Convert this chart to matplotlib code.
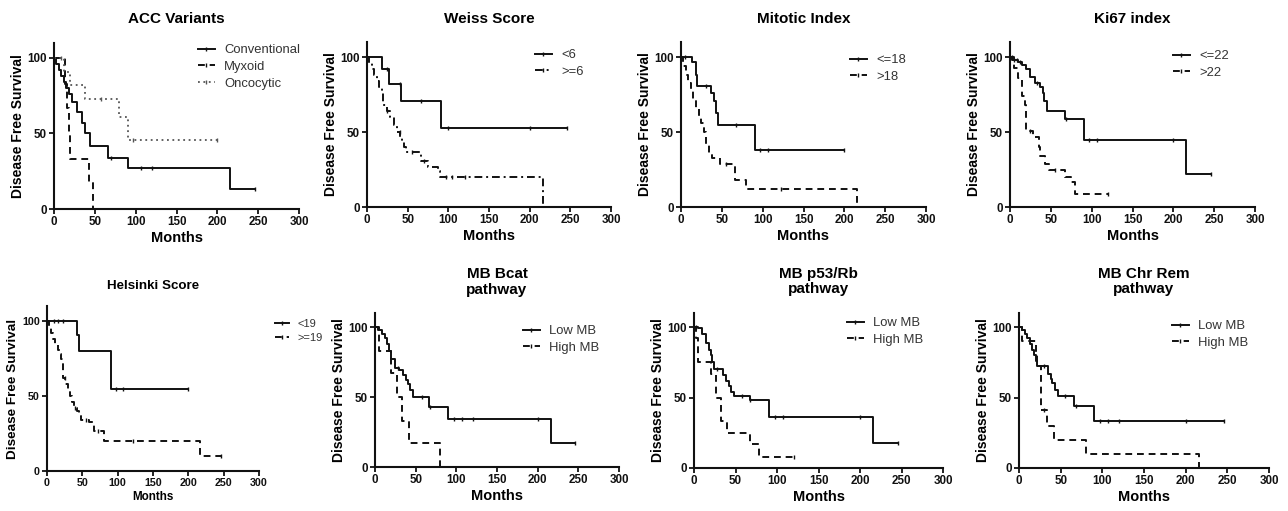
import matplotlib
matplotlib.use("Agg")
import matplotlib.pyplot as plt
from matplotlib.lines import Line2D

plt.rcParams["font.family"] = ["Liberation Sans", "DejaVu Sans"]

W, H = 1288, 511
MONTH_TICKS = [0, 50, 100, 150, 200, 250, 300]
DFS_TICKS = [0, 50, 100]

# ACC Variants
conv_t = [3, 6, 9, 12, 15, 18, 22, 28, 34, 38, 44, 66, 90, 216]
conv_s = [96, 92, 88, 84, 80, 76, 71, 64, 57, 50, 42, 34, 27, 13]
conv_end, conv_cens = 246, [70, 106, 120, 246]
myx_t = [13, 16, 18, 20, 43, 48]
myx_s = [83, 67, 50, 33, 17, 0]
myx_end, myx_cens = 48, []
onc_t = [12, 20, 38, 80, 90]
onc_s = [91, 82, 73, 61, 46]
onc_end, onc_cens = 200, [8, 57, 97, 200]

# Weiss Score
wlo_t = [18, 27, 42, 91]
wlo_s = [92, 82, 71, 53]
wlo_end, wlo_cens = 246, [24, 41, 66, 99, 200, 246]
whi_t = [3, 6, 9, 12, 15, 18, 20, 24, 28, 33, 37, 41, 43, 46, 48, 66, 75, 87, 90, 216]
whi_s = [96, 92, 88, 84, 80, 76, 68, 64, 60, 55, 50, 47, 44, 40, 37, 31, 27, 24, 20, 0]
whi_end, whi_cens = 216, [25, 40, 55, 70, 97, 104, 120]

# Mitotic Index
mlo_t = [14, 18, 20, 37, 40, 43, 45, 90]
mlo_s = [97, 88, 81, 76, 71, 63, 55, 38]
mlo_end, mlo_cens = 200, [5, 30, 67, 97, 107, 200]
mhi_t = [3, 6, 9, 12, 15, 18, 22, 25, 28, 31, 34, 38, 48, 66, 80, 216]
mhi_s = [94, 88, 83, 78, 72, 66, 60, 56, 50, 42, 35, 33, 29, 18, 12, 0]
mhi_end, mhi_cens = 216, [55, 122]

# Ki67 index
klo_t = [3, 10, 15, 20, 25, 30, 37, 40, 42, 45, 67, 90, 216]
klo_s = [98, 97, 95, 92, 87, 83, 80, 76, 71, 64, 59, 45, 22]
klo_end, klo_cens = 246, [2, 5, 8, 12, 33, 68, 97, 107, 200, 246]
khi_t = [5, 10, 15, 18, 20, 28, 35, 37, 43, 48, 67, 75, 80]
khi_s = [93, 86, 74, 68, 51, 47, 40, 34, 29, 25, 20, 17, 9]
khi_end, khi_cens = 120, [24, 55, 120]

# Helsinki Score
hlo_t = [42, 45, 90, 91]
hlo_s = [91, 80, 70, 55]
hlo_end, hlo_cens = 200, [10, 16, 22, 98, 107, 200]
hhi_t = [3, 6, 9, 12, 15, 18, 20, 22, 26, 30, 33, 35, 38, 42, 45, 48, 60, 66, 80, 216]
hhi_s = [96, 92, 88, 85, 81, 78, 75, 62, 58, 55, 50, 46, 42, 40, 37, 34, 33, 27, 20, 10]
hhi_end, hhi_cens = 246, [25, 40, 55, 72, 122, 246]

# MB Bcat pathway
blo_t = [4, 8, 12, 15, 17, 20, 24, 30, 35, 38, 40, 43, 47, 66, 90, 216]
blo_s = [98, 95, 92, 88, 83, 77, 71, 69, 66, 62, 59, 55, 50, 43, 34, 17]
blo_end, blo_cens = 246, [28, 58, 68, 97, 107, 120, 200, 246]
bhi_t = [5, 20, 27, 33, 42, 80]
bhi_s = [83, 67, 50, 33, 17, 0]
bhi_end, bhi_cens = 80, []

# MB p53/Rb pathway
plo_t = [5, 10, 15, 18, 20, 22, 24, 35, 38, 42, 45, 48, 67, 90, 216]
plo_s = [99, 95, 89, 84, 80, 75, 70, 66, 62, 58, 54, 51, 48, 36, 18]
plo_end, plo_cens = 246, [2, 28, 58, 68, 97, 107, 200, 246]
phi_t = [3, 5, 20, 27, 33, 40, 67, 78]
phi_s = [92, 75, 67, 50, 33, 25, 17, 8]
phi_end, phi_cens = 120, [120]

# MB Chr Rem pathway
clo_t = [3, 7, 10, 13, 16, 18, 20, 22, 35, 38, 40, 43, 47, 66, 90]
clo_s = [98, 95, 92, 88, 84, 80, 76, 72, 67, 63, 60, 55, 51, 44, 33]
clo_end, clo_cens = 246, [30, 55, 68, 97, 107, 120, 200, 246]
chi_t = [3, 20, 22, 26, 33, 42, 80, 216]
chi_s = [90, 80, 72, 41, 30, 20, 10, 0]
chi_end, chi_cens = 216, [30]

INK = "#111111"
SOLID = dict(color=INK, ls="-", lw=1.4)
DASH = dict(color=INK, ls=(0, (3.5, 2.5)), lw=1.4)
DASHDOT = dict(color=INK, ls=(0, (4, 2, 1, 2)), lw=1.4)
DOT = dict(color="#555555", ls=(0, (1, 2)), lw=1.3)

# font scale per element: (title, ticks, xlabel, ylabel, legend)
FULL = (1.0, 1.0, 1.0, 1.0, 1.0)
SMALL = (0.88, 0.92, 0.8, 0.97, 0.85)


def km_xy(t, s, end):
    return [0] + list(t) + [end], [100] + list(s) + [s[-1]]


def surv_at(t, s, c):
    v = 100
    for ti, si in zip(t, s):
        if ti <= c:
            v = si
    return v


# (title, [(label, t, s, end, cens, style)], (left, right, y0, y100) px, legend (x, y) px, scales)
panels = [
    ("ACC Variants",
     [("Conventional", conv_t, conv_s, conv_end, conv_cens, SOLID),
      ("Myxoid", myx_t, myx_s, myx_end, myx_cens, DASH),
      ("Oncocytic", onc_t, onc_s, onc_end, onc_cens, DOT)],
     (54, 299, 209, 58), (198, 44), FULL),
    ("Weiss Score",
     [("<6", wlo_t, wlo_s, wlo_end, wlo_cens, SOLID),
      (">=6", whi_t, whi_s, whi_end, whi_cens, DASHDOT)],
     (367, 611, 207, 57), (535, 49), FULL),
    ("Mitotic Index",
     [("<=18", mlo_t, mlo_s, mlo_end, mlo_cens, SOLID),
      (">18", mhi_t, mhi_s, mhi_end, mhi_cens, DASH)],
     (681, 926, 207, 57), (850, 54), FULL),
    ("Ki67 index",
     [("<=22", klo_t, klo_s, klo_end, klo_cens, SOLID),
      (">22", khi_t, khi_s, khi_end, khi_cens, DASH)],
     (1010, 1255, 207, 57), (1173, 50), FULL),
    ("Helsinki Score",
     [("<19", hlo_t, hlo_s, hlo_end, hlo_cens, SOLID),
      (">=19", hhi_t, hhi_s, hhi_end, hhi_cens, DASH)],
     (47, 259, 471, 321), (275, 319), SMALL),
    ("MB Bcat\npathway",
     [("Low MB", blo_t, blo_s, blo_end, blo_cens, SOLID),
      ("High MB", bhi_t, bhi_s, bhi_end, bhi_cens, DASH)],
     (375, 619, 467, 327), (523, 325), FULL),
    ("MB p53/Rb\npathway",
     [("Low MB", plo_t, plo_s, plo_end, plo_cens, SOLID),
      ("High MB", phi_t, phi_s, phi_end, phi_cens, DASH)],
     (694, 943, 468, 327), (847, 317), FULL),
    ("MB Chr Rem\npathway",
     [("Low MB", clo_t, clo_s, clo_end, clo_cens, SOLID),
      ("High MB", chi_t, chi_s, chi_end, chi_cens, DASH)],
     (1019, 1269, 468, 327), (1172, 320), FULL),
]

fig = plt.figure(figsize=(W / 100, H / 100), dpi=100)

for title, curves, (xl, xr, y0, y100), (lx, ly), (kt, kk, kx, ky, kl) in panels:
    ytop = y0 - 1.1 * (y0 - y100)
    ax = fig.add_axes([xl / W, 1 - y0 / H, (xr - xl) / W, (y0 - ytop) / H])
    handles = []
    for label, t, s, end, cens, st in curves:
        x, y = km_xy(t, s, end)
        ax.step(x, y, where="post", clip_on=False, **st)
        if cens:
            ax.plot(cens, [surv_at(t, s, c) for c in cens], ls="none",
                    marker="|", ms=3.5 * kl, mew=1.0, color=st["color"], clip_on=False)
        handles.append(Line2D([], [], marker="|", ms=3.5 * kl, mew=1.0, label=label, **st))

    ax.set_xlim(0, 300)
    ax.set_ylim(0, 110)
    ax.set_xticks(MONTH_TICKS)
    ax.set_yticks(DFS_TICKS)
    for side in ("top", "right"):
        ax.spines[side].set_visible(False)
    for side in ("left", "bottom"):
        ax.spines[side].set_linewidth(1.5)
        ax.spines[side].set_color(INK)
    ax.tick_params(length=3.5, width=1.3, colors=INK, labelsize=8.4 * kk, pad=1.5)
    for lab in ax.get_xticklabels() + ax.get_yticklabels():
        lab.set_fontweight("bold")
    ax.set_xlabel("Months", fontsize=10.5 * kx, fontweight="bold", labelpad=2)
    ax.set_ylabel("Disease Free Survival", fontsize=10 * ky, fontweight="bold", labelpad=2)
    ax.set_title(title, fontsize=11 * kt, fontweight="bold", pad=14 * kt, linespacing=1.1)

    fig.legend(handles=handles, loc="upper left", bbox_to_anchor=(lx / W, 1 - ly / H),
               bbox_transform=fig.transFigure, frameon=False, fontsize=9.4 * kl,
               handlelength=1.3, handletextpad=0.7, labelspacing=0.35,
               borderpad=0, borderaxespad=0, labelcolor="#333333")

fig.savefig("out.png", dpi=100)
